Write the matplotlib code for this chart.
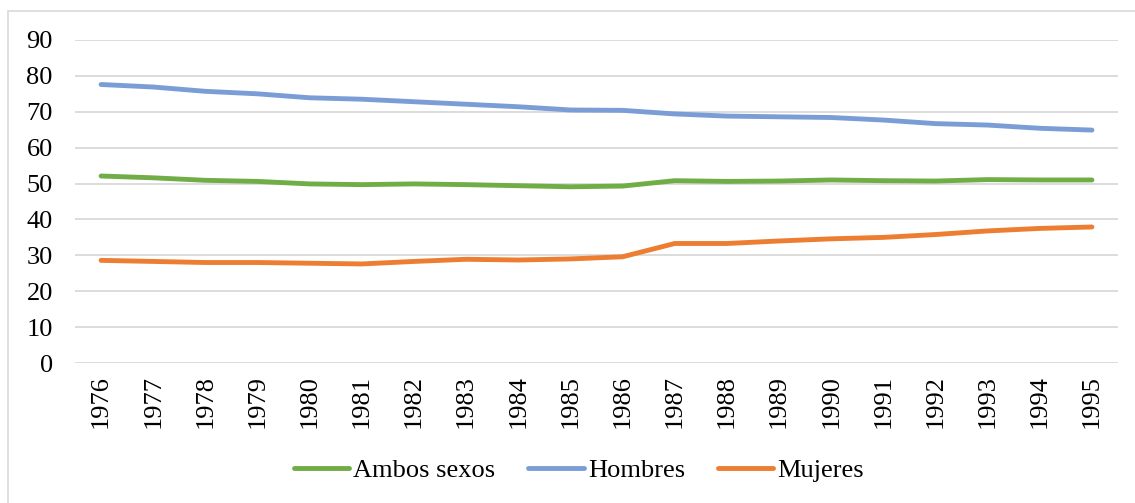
import matplotlib
matplotlib.use("Agg")
import matplotlib.pyplot as plt
from matplotlib.patches import Rectangle

years = [str(y) for y in range(1976, 1996)]
ambos = [52.1, 51.6, 50.9, 50.6, 49.9, 49.7, 49.9, 49.7, 49.4, 49.1,
         49.3, 50.8, 50.6, 50.7, 51.0, 50.8, 50.7, 51.1, 51.0, 51.0]
hombres = [77.6, 76.9, 75.7, 75.0, 73.9, 73.5, 72.8, 72.1, 71.4, 70.5,
           70.4, 69.4, 68.8, 68.6, 68.4, 67.7, 66.7, 66.3, 65.4, 64.9]
mujeres = [28.6, 28.3, 28.0, 28.0, 27.8, 27.6, 28.3, 28.9, 28.7, 29.0,
           29.6, 33.3, 33.3, 34.0, 34.6, 35.0, 35.8, 36.8, 37.5, 37.9]
yticks = list(range(0, 100, 10))

plt.rcParams["font.family"] = ["Liberation Serif", "DejaVu Serif"]
FS = 19

fig = plt.figure(figsize=(11.35, 5.03), dpi=100)
ax = fig.add_axes([75 / 1135, 1 - 363 / 503, (1118 - 75) / 1135, (363 - 40) / 503])

x = range(len(years))
ax.plot(x, ambos, color="#70ad47", lw=3.5, solid_capstyle="round", label="Ambos sexos")
ax.plot(x, hombres, color="#7b9dd6", lw=3.5, solid_capstyle="round", label="Hombres")
ax.plot(x, mujeres, color="#ed7d31", lw=3.5, solid_capstyle="round", label="Mujeres")

ax.set_xlim(-0.5, len(years) - 0.5)
ax.set_ylim(0, 90)
ax.set_yticks(yticks)
ax.set_xticks(list(x))
ax.set_xticklabels(years, rotation=90, fontsize=FS)
ax.tick_params(axis="y", labelsize=FS, length=0, pad=16)
ax.tick_params(axis="x", length=0, pad=9)
ax.grid(axis="y", color="#d9d9d9", lw=1.3)
ax.set_axisbelow(True)
for s in ax.spines.values():
    s.set_visible(False)

fig.legend(loc="center", bbox_to_anchor=(0.51, 1 - 470 / 503), ncol=3, frameon=False,
           fontsize=FS, handlelength=2.1, handletextpad=0.15, columnspacing=1.25)

# outer chart border (only left and top edges fall inside the picture)
fig.patches.append(Rectangle((8 / 1135, -0.05), 1.1, 1.05 - 11 / 503,
                             transform=fig.transFigure, fill=False,
                             edgecolor="#d9d9d9", lw=1.2))

fig.savefig("out.png", dpi=100)
